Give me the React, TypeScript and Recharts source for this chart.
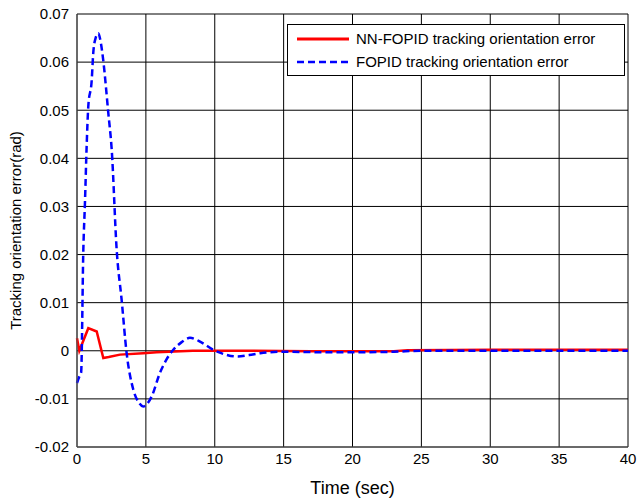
import { CartesianGrid, Line, LineChart, XAxis, YAxis } from 'recharts';

const fopidTime = [0, 0.15, 0.3, 0.46, 0.58, 0.7, 0.82, 1.07, 1.18, 1.35, 1.55, 1.7, 1.9, 2.27, 2.52, 2.88, 3.24, 3.6, 4.09, 4.5, 4.81, 5.1, 5.42, 6.02, 6.5, 6.99, 7.6, 8.2, 9.0, 9.9, 10.8, 11.6, 12.5, 13.3, 15, 18, 20, 23, 25, 30, 35, 40];
const fopidError = [-0.0067, -0.0055, -0.0045, 0.021, 0.031, 0.0425, 0.0508, 0.0563, 0.0619, 0.065, 0.066, 0.0645, 0.0605, 0.0495, 0.0418, 0.021, 0.0106, -0.0004, -0.0081, -0.0108, -0.0116, -0.011, -0.0095, -0.0046, -0.0018, 0.0002, 0.0018, 0.0027, 0.0018, 0.0002, -0.0008, -0.0012, -0.0009, -0.0005, -0.0002, -0.0003, -0.0003, -0.0002, 0, 0, 0, 0];

const nnTime = [0, 0.17, 0.82, 1.43, 1.91, 2.3, 3.12, 4.81, 5.78, 8.4, 12, 17, 23, 24, 30, 40];
const nnError = [0.0026, 0, 0.0047, 0.004, -0.0015, -0.0013, -0.0008, -0.0005, -0.0003, 0, 0, -0.0001, -0.0001, 0.0001, 0.0002, 0.0002];

const xTicks = [0, 5, 10, 15, 20, 25, 30, 35, 40];
const yTicks = [-0.02, -0.01, 0, 0.01, 0.02, 0.03, 0.04, 0.05, 0.06, 0.07];

const fopidData = fopidTime.map((t, i) => ({ t, fopid: fopidError[i] }));
const nnData = nnTime.map((t, i) => ({ t, nn: nnError[i] }));

const font = 'Liberation Sans, Arial, sans-serif';

function LegendBox() {
  return (
    <div
      style={{
        position: 'absolute',
        left: 287,
        top: 24,
        border: '1px solid #000',
        background: '#fff',
        width: 336,
        padding: '2px 0',
        fontFamily: font,
        fontSize: 15,
        color: '#000',
      }}
    >
      <div style={{ display: 'flex', alignItems: 'center', height: 23 }}>
        <svg width={68} height={10}>
          <line x1={9} x2={61} y1={5} y2={5} stroke="#ff0000" strokeWidth={3} />
        </svg>
        <span>NN-FOPID tracking orientation error</span>
      </div>
      <div style={{ display: 'flex', alignItems: 'center', height: 23 }}>
        <svg width={68} height={10}>
          <line x1={9} x2={61} y1={5} y2={5} stroke="#0000ff" strokeWidth={2.5} strokeDasharray="7 4" />
        </svg>
        <span>FOPID tracking orientation error</span>
      </div>
    </div>
  );
}

export default function App() {
  return (
    <div style={{ position: 'absolute', left: 0, top: 0, background: '#fff' }}>
      <LineChart width={641} height={500} margin={{ top: 14, right: 13, left: 0, bottom: 0 }}>
        <CartesianGrid stroke="#000" strokeWidth={1} />
        <XAxis
          type="number"
          dataKey="t"
          domain={[0, 40]}
          ticks={xTicks}
          height={53}
          allowDuplicatedCategory={false}
          tickLine={false}
          axisLine={{ stroke: '#555' }}
          tick={{ fontSize: 15, fill: '#000', fontFamily: font }}
          tickMargin={0}
          label={{ value: 'Time (sec)', position: 'insideBottom', offset: 6, fontSize: 18, fill: '#000', fontFamily: font }}
        />
        <YAxis
          type="number"
          domain={[-0.02, 0.07]}
          ticks={yTicks}
          width={77}
          tickLine={false}
          axisLine={{ stroke: '#555' }}
          tick={{ fontSize: 15, fill: '#000', fontFamily: font }}
          tickFormatter={(v: number) => String(Math.round(v * 100) / 100)}
          label={{ value: 'Tracking orientation error(rad)', angle: -90, position: 'insideLeft', offset: 16, style: { textAnchor: 'middle' }, fontSize: 15, fill: '#000', fontFamily: font }}
        />
        <Line
          data={nnData}
          dataKey="nn"
          type="linear"
          stroke="#ff0000"
          strokeWidth={2.5}
          dot={false}
          isAnimationActive={false}
        />
        <Line
          data={fopidData}
          dataKey="fopid"
          type="monotone"
          stroke="#0000ff"
          strokeWidth={2.5}
          strokeDasharray="7 4"
          dot={false}
          isAnimationActive={false}
        />
      </LineChart>
      <LegendBox />
    </div>
  );
}
